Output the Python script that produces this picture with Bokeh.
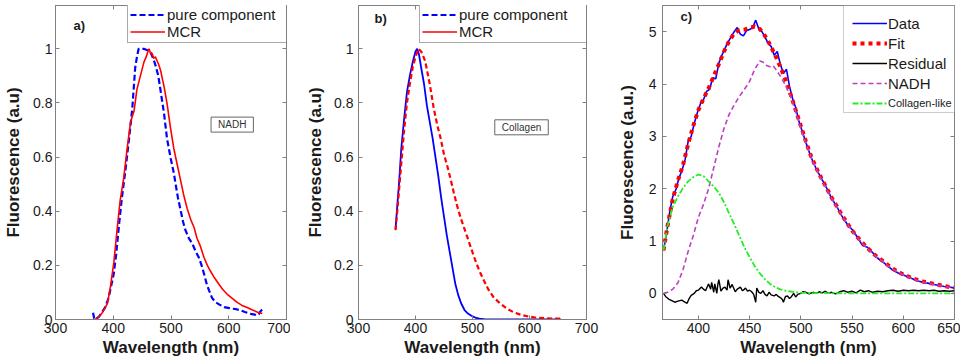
from bokeh.plotting import figure
from bokeh.layouts import row
from bokeh.models import (Range1d, LinearAxis, FixedTicker, CustomJSTickFormatter,
                          Legend, LegendItem, Label, BoxAnnotation)
from bokeh.embed import file_html
from bokeh.resources import INLINE

# ---------------- data ----------------
# panel a) NADH
a_pure_x = [365, 367, 369, 375, 380, 386, 392, 396, 401, 405, 410, 415, 421, 427, 433, 438, 441, 444,
            449, 453, 459, 465, 470, 473, 478, 482, 488, 493, 499, 505, 508, 512, 517, 521, 525, 531,
            537, 543, 548, 553, 557, 562, 566, 571, 577, 584, 592, 599, 606, 613, 620, 628, 638, 645,
            649, 652, 655, 658]
a_pure_y = [0.025, 0.005, 0.0, 0.01, 0.025, 0.045, 0.08, 0.12, 0.17, 0.24, 0.35, 0.45, 0.55, 0.66,
            0.78, 0.93, 0.97, 1.0, 1.0, 1.0, 0.995, 0.985, 0.96, 0.94, 0.9, 0.845, 0.76, 0.67, 0.6,
            0.54, 0.5, 0.45, 0.4, 0.36, 0.33, 0.3, 0.28, 0.25, 0.23, 0.2, 0.17, 0.13, 0.107, 0.08,
            0.064, 0.055, 0.046, 0.043, 0.04, 0.038, 0.034, 0.028, 0.021, 0.018, 0.015, 0.02, 0.03,
            0.038]
a_mcr_x = [368, 372, 376, 381, 385, 390, 395, 401, 407, 412, 418, 424, 430, 436, 441, 447, 453, 457,
           460, 462, 465, 467, 470, 473, 476, 479, 482, 485, 488, 493, 499, 505, 510, 514, 518, 522,
           528, 534, 540, 545, 551, 557, 563, 568, 575, 583, 590, 597, 605, 614, 623, 632, 640, 649,
           658]
a_mcr_y = [0.0, 0.005, 0.012, 0.025, 0.04, 0.06, 0.12, 0.21, 0.34, 0.44, 0.52, 0.63, 0.73, 0.77,
           0.85, 0.9, 0.95, 0.97, 0.99, 1.0, 0.98, 0.985, 0.965, 0.97, 0.955, 0.94, 0.92, 0.89, 0.86,
           0.8, 0.71, 0.63, 0.58, 0.54, 0.5, 0.46, 0.41, 0.37, 0.34, 0.3, 0.27, 0.23, 0.2, 0.18,
           0.155, 0.13, 0.11, 0.094, 0.08, 0.064, 0.052, 0.044, 0.036, 0.028, 0.022]

# panel b) Collagen
b_pure_x = [365, 368, 371, 375, 380, 385, 390, 395, 400, 403, 406, 410, 415, 420, 425, 430, 435, 440,
            445, 450, 455, 460, 465, 470, 475, 480, 486, 492, 498, 505, 512, 520, 540, 580, 620, 655]
b_pure_y = [0.335, 0.42, 0.5, 0.63, 0.74, 0.84, 0.9, 0.95, 0.99, 1.0, 0.98, 0.93, 0.87, 0.79, 0.73,
            0.67, 0.6, 0.53, 0.45, 0.38, 0.31, 0.25, 0.19, 0.13, 0.09, 0.06, 0.035, 0.022, 0.014,
            0.007, 0.003, 0.001, 0.0, 0.0, 0.0, 0.0]
b_mcr_x = [365, 368, 372, 376, 380, 385, 390, 395, 400, 405, 410, 417, 425, 432, 438, 444, 450, 456,
           462, 467, 473, 479, 485, 491, 498, 505, 512, 520, 528, 537, 549, 561, 572, 584, 596, 608,
           625, 643, 657]
b_mcr_y = [0.33, 0.4, 0.5, 0.6, 0.7, 0.8, 0.87, 0.93, 0.97, 1.0, 0.99, 0.955, 0.87, 0.78, 0.72, 0.67,
           0.61, 0.565, 0.515, 0.47, 0.42, 0.377, 0.34, 0.304, 0.26, 0.218, 0.18, 0.144, 0.11, 0.082,
           0.058, 0.039, 0.027, 0.018, 0.012, 0.008, 0.005, 0.003, 0.003]

# panel c) decomposition
c_data_x = [366, 369, 372, 375, 378, 381, 384, 387, 390, 393, 396, 399, 402, 405, 408, 411, 414, 417,
            420, 423, 426, 429, 432, 435, 438, 441, 444, 447, 450, 453, 456, 459, 462, 465, 468, 471,
            474, 477, 480, 483, 486, 489, 492, 495, 498, 501, 505, 510, 515, 520, 525, 530, 535, 540,
            545, 550, 555, 560, 565, 570, 575, 580, 585, 590, 595, 600, 605, 610, 615, 620, 625, 630,
            635, 640, 645, 650]
c_data_y = [0.82, 1.15, 1.55, 1.85, 1.98, 2.2, 2.35, 2.55, 2.9, 3.0, 3.25, 3.45, 3.62, 3.7, 3.86, 3.9,
            4.12, 4.1, 4.4, 4.55, 4.68, 4.8, 4.9, 5.0, 5.08, 4.95, 4.92, 5.02, 5.04, 5.08, 5.22, 5.05,
            5.0, 4.9, 4.78, 4.72, 4.55, 4.62, 4.38, 4.2, 4.28, 3.95, 3.72, 3.55, 3.3, 3.12, 2.88, 2.6,
            2.38, 2.2, 2.02, 1.82, 1.66, 1.48, 1.33, 1.22, 1.08, 0.92, 0.88, 0.78, 0.67, 0.6, 0.52,
            0.44, 0.39, 0.35, 0.31, 0.27, 0.23, 0.21, 0.19, 0.17, 0.15, 0.13, 0.12, 0.1]
c_fit_x = [366, 370, 375, 380, 385, 390, 395, 400, 405, 410, 415, 420, 425, 430, 435, 440, 445, 450,
           455, 460, 465, 470, 475, 480, 485, 490, 495, 500, 505, 510, 515, 520, 525, 530, 535, 540,
           545, 550, 555, 560, 565, 570, 575, 580, 585, 590, 595, 600, 605, 610, 615, 620, 625, 630,
           635, 640, 645, 650]
c_fit_y = [0.82, 1.3, 1.8, 2.15, 2.45, 2.85, 3.2, 3.5, 3.72, 3.92, 4.15, 4.38, 4.62, 4.82, 4.97, 5.03,
           5.04, 5.07, 5.1, 5.05, 4.92, 4.75, 4.55, 4.33, 4.08, 3.8, 3.5, 3.2, 2.9, 2.62, 2.4, 2.2,
           2.02, 1.83, 1.67, 1.5, 1.35, 1.2, 1.08, 0.97, 0.87, 0.77, 0.69, 0.62, 0.54, 0.47, 0.41,
           0.36, 0.32, 0.28, 0.25, 0.22, 0.2, 0.18, 0.16, 0.14, 0.12, 0.11]
c_res_x = [366, 368, 371, 374, 377, 380, 384, 386, 389, 391, 393, 396, 398, 400, 403, 405, 407, 409,
           410, 412, 413, 415, 416, 418, 419, 420, 422, 424, 426, 428, 429, 431, 433, 434, 436, 438,
           441, 443, 444, 446, 448, 450, 452, 454, 456, 457, 459, 461, 463, 465, 467, 469, 471, 474,
           476, 478, 480, 482, 483, 485, 487, 489, 491, 493, 495, 497, 500, 502, 505, 508, 512, 515,
           518, 521, 524, 527, 530, 534, 538, 542, 546, 550, 554, 558, 562, 566, 570, 575, 580, 585,
           590, 595, 600, 605, 610, 615, 620, 625, 630, 635, 640, 645, 650]
c_res_y = [0.0, -0.06, -0.11, -0.14, -0.17, -0.15, -0.13, -0.16, -0.19, -0.1, -0.04, 0.0, 0.05, 0.06,
           0.12, 0.08, 0.05, 0.14, 0.18, 0.08, 0.21, 0.02, 0.18, 0.0, 0.17, 0.26, 0.04, 0.1, 0.12,
           0.06, 0.26, 0.1, 0.17, 0.12, 0.03, 0.08, 0.12, 0.05, 0.06, 0.1, 0.04, 0.06, 0.03, -0.02,
           -0.17, 0.1, 0.02, 0.0, 0.05, -0.02, -0.05, 0.02, -0.03, -0.05, -0.02, -0.06, -0.08, -0.12,
           -0.17, -0.06, -0.05, -0.1, -0.06, 0.0, -0.07, -0.02, 0.0, 0.03, 0.02, -0.01, 0.02, 0.0,
           0.03, 0.01, 0.04, 0.0, 0.02, -0.01, 0.03, 0.05, 0.02, 0.04, 0.01, 0.06, 0.03, 0.05, 0.02,
           0.04, 0.03, 0.05, 0.06, 0.04, 0.06, 0.05, 0.06, 0.05, 0.06, 0.05, 0.06, 0.04, 0.05, 0.04,
           0.05]
c_nadh_x = [366, 370, 375, 380, 385, 390, 395, 400, 405, 410, 415, 420, 425, 430, 435, 440, 445, 450,
            455, 460, 463, 466, 470, 473, 476, 480, 485, 490, 495, 500, 505, 510, 515, 520, 525, 530,
            535, 540, 545, 550, 555, 560, 565, 570, 575, 580, 585, 590, 595, 600, 605, 610, 615, 620,
            625, 630, 635, 640, 645, 650]
c_nadh_y = [0.0, 0.02, 0.08, 0.2, 0.45, 0.8, 1.1, 1.45, 1.7, 2.0, 2.4, 2.8, 3.15, 3.42, 3.6, 3.76,
            3.9, 4.05, 4.28, 4.44, 4.42, 4.36, 4.33, 4.35, 4.27, 4.15, 3.98, 3.76, 3.47, 3.15, 2.86,
            2.6, 2.38, 2.18, 2.0, 1.82, 1.66, 1.49, 1.34, 1.19, 1.07, 0.96, 0.86, 0.76, 0.68, 0.61,
            0.53, 0.46, 0.4, 0.35, 0.31, 0.27, 0.24, 0.21, 0.19, 0.17, 0.15, 0.13, 0.115, 0.1]
c_coll_x = [366, 370, 375, 380, 385, 390, 395, 400, 405, 410, 415, 420, 425, 430, 435, 440, 445, 450,
            455, 460, 465, 470, 475, 480, 485, 490, 495, 500, 510, 520, 550, 600, 650]
c_coll_y = [0.82, 1.3, 1.65, 1.85, 2.01, 2.14, 2.22, 2.27, 2.24, 2.14, 2.04, 1.92, 1.74, 1.53, 1.32,
            1.1, 0.88, 0.69, 0.52, 0.38, 0.27, 0.18, 0.12, 0.075, 0.05, 0.035, 0.02, 0.01, 0.005,
            0.003, 0.0, 0.0, 0.0]

ab_xticks = [300, 400, 500, 600, 700]
ab_yticks = [0, 0.2, 0.4, 0.6, 0.8, 1]
c_xticks = [400, 450, 500, 550, 600, 650]
c_yticks = [0, 1, 2, 3, 4, 5]

# ---------------- styling helpers ----------------
FONT = "Liberation Sans"
AXC = "#808080"
TXT = "#1a1a1a"
BLUE = "#0000ff"
RED = "#ff0000"
MAG = "#bf40bf"
GRN = "#22ee22"
H = 359
TOP = 5
BOTTOM = 40
FH = H - TOP - BOTTOM


def make_fig(width, left, right, xr, yr, xticks, yticks, ylabel, yfmt, tick_std=2, lab_std=6):
    p = figure(width=width, height=H, x_range=Range1d(*xr), y_range=Range1d(*yr),
               output_backend="svg", toolbar_location=None,
               min_border_left=left, min_border_right=right, min_border_top=TOP,
               min_border_bottom=BOTTOM)
    p.outline_line_color = AXC
    p.outline_line_width = 1
    p.xgrid.visible = False
    p.ygrid.visible = False
    p.background_fill_color = "white"
    xa = p.below[0]
    ya = p.left[0]
    xa.axis_label = "Wavelength (nm)"
    ya.axis_label = ylabel
    xa.ticker = FixedTicker(ticks=xticks)
    ya.ticker = FixedTicker(ticks=yticks)
    ya.formatter = CustomJSTickFormatter(code=yfmt)
    for ax in (xa, ya):
        ax.axis_line_color = AXC
        ax.major_tick_line_color = AXC
        ax.major_tick_in = 4
        ax.major_tick_out = 0
        ax.minor_tick_line_color = None
        ax.major_label_text_font = FONT
        ax.major_label_text_font_size = "14px"
        ax.major_label_text_color = TXT
        ax.axis_label_text_font = FONT
        ax.axis_label_text_font_size = "17px"
        ax.axis_label_text_font_style = "bold"
        ax.axis_label_text_color = TXT
    xa.major_label_standoff = 3
    xa.axis_label_standoff = 2
    ya.major_label_standoff = tick_std
    ya.axis_label_standoff = lab_std
    # mirrored inner ticks on top and right (labels not painted)
    for ticks, place in ((xticks, "above"), (yticks, "right")):
        ax2 = LinearAxis(ticker=FixedTicker(ticks=ticks), major_label_text_font_size="1px",
                         major_label_text_color=None, major_tick_in=4, major_tick_out=0,
                         minor_tick_line_color=None, axis_line_color=AXC,
                         major_tick_line_color=AXC, major_label_standoff=0)
        p.add_layout(ax2, place)
    return p


def legend_box(items, location, label_width):
    return Legend(items=items, location=location, label_text_font=FONT,
                  label_text_font_size="15px", label_text_color=TXT,
                  label_height=15, glyph_height=15, glyph_width=35, label_standoff=2,
                  label_width=label_width, spacing=0, padding=2, margin=0,
                  border_line_color="#555555", border_line_width=1,
                  background_fill_color="white", background_fill_alpha=1,
                  inactive_fill_alpha=0)


def panel_label(p, x, y, text):
    p.add_layout(Label(x=x, y=y, text=text, text_font=FONT, text_font_size="13px",
                       text_font_style="bold", text_color=TXT, text_baseline="middle"))


def box_label(p, x, y, text):
    p.add_layout(Label(x=x, y=y, text=text, text_font=FONT, text_font_size="10px",
                       text_color="#333333", text_align="center", text_baseline="middle",
                       border_line_color="#666666", border_line_width=1,
                       background_fill_color="white", padding=(7, 2)))


fmt_dec = "return String(Math.round(tick*10)/10);"
fmt_int = "return String(Math.round(tick));"
LEG_Y = FH - 38   # legend box (38px tall) hangs from the frame top

# ---------------- panel a ----------------
pa = make_fig(290, 55, 4, (300, 700), (0, 1.16), ab_xticks, ab_yticks,
              "Fluorescence (a.u)", fmt_dec, 3, 7)
ra1 = pa.line(a_pure_x, a_pure_y, line_color=BLUE, line_width=2.2, line_dash="6 3")
ra2 = pa.line(a_mcr_x, a_mcr_y, line_color=RED, line_width=1.6)
pa.add_layout(legend_box([LegendItem(label="pure component", renderers=[ra1]),
                          LegendItem(label="MCR", renderers=[ra2])], (72, LEG_Y), 118))
panel_label(pa, 331, 1.085, "a)")
box_label(pa, 606, 0.72, "NADH")

# ---------------- panel b ----------------
pb = make_fig(310, 68, 14, (300, 700), (0, 1.16), ab_xticks, ab_yticks,
              "Fluorescence (a.u)", fmt_dec, 5, 6)
pb.line(b_pure_x, b_pure_y, line_color=BLUE, line_width=1.8)
pb.line(b_mcr_x, b_mcr_y, line_color=RED, line_width=2.2, line_dash="5 3")
# the original legend shows the panel-a line styles; hidden proxies carry those styles
lb1 = pb.line(b_pure_x, b_pure_y, line_color=BLUE, line_width=2.2, line_dash="6 3", visible=False)
lb2 = pb.line(b_mcr_x, b_mcr_y, line_color=RED, line_width=1.6, visible=False)
pb.add_layout(legend_box([LegendItem(label="pure component", renderers=[lb1]),
                          LegendItem(label="MCR", renderers=[lb2])], (61, LEG_Y), 126))
panel_label(pb, 328, 1.113, "b)")
box_label(pb, 586, 0.71, "Collagen")

# ---------------- panel c ----------------
pc = make_fig(360, 62, 6, (365, 650), (-0.5, 5.5), c_xticks, c_yticks,
              "Fluorescence (a.u.)", fmt_int, 6, 9)
rc1 = pc.line(c_data_x, c_data_y, line_color=BLUE, line_width=1.6)
rc2 = pc.line(c_fit_x, c_fit_y, line_color=RED, line_width=4, line_dash="4 4")
rc3 = pc.line(c_res_x, c_res_y, line_color="black", line_width=1.4)
rc4 = pc.line(c_nadh_x, c_nadh_y, line_color=MAG, line_width=1.6, line_dash="5 3")
rc5 = pc.line(c_coll_x, c_coll_y, line_color=GRN, line_width=1.8, line_dash="6 2 2 2")
pc.add_layout(BoxAnnotation(left=541.7, right=650, top=5.5, bottom=5.5 - 107 / FH * 6,
                            fill_color="white", fill_alpha=1, line_color="#555555", line_width=1))
pc.add_layout(Legend(items=[LegendItem(label="Data", renderers=[rc1]),
                            LegendItem(label="Fit", renderers=[rc2]),
                            LegendItem(label="Residual", renderers=[rc3]),
                            LegendItem(label="NADH", renderers=[rc4])],
                     location=(190, FH - 8 - 80), label_text_font=FONT, label_text_font_size="15px",
                     label_text_color=TXT, label_height=20, glyph_height=20, glyph_width=35,
                     label_standoff=1, spacing=0, padding=0, margin=0, border_line_color=None,
                     background_fill_alpha=0))
pc.add_layout(Legend(items=[LegendItem(label="Collagen-like", renderers=[rc5])],
                     location=(190, FH - 88 - 20), label_text_font=FONT, label_text_font_size="11px",
                     label_text_color=TXT, label_height=20, glyph_height=20, glyph_width=35,
                     label_standoff=1, spacing=0, padding=0, margin=0, border_line_color=None,
                     background_fill_alpha=0))
panel_label(pc, 382.6, 5.29, "c)")

layout = row(pa, pb, pc, spacing=0)
open("out.html", "w").write(file_html(layout, INLINE))
